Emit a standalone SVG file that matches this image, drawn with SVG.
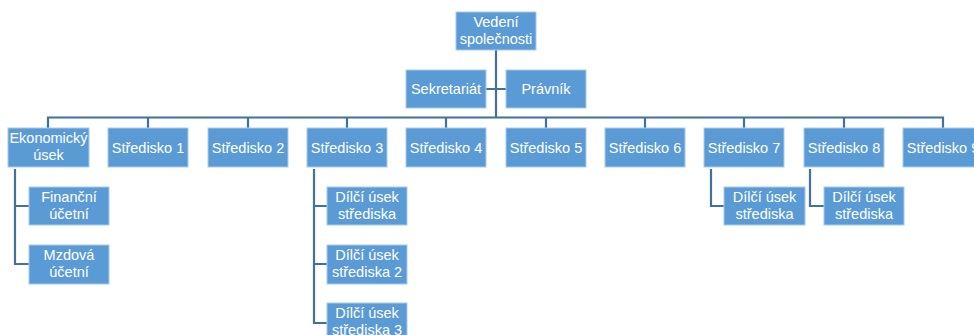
<svg xmlns="http://www.w3.org/2000/svg" width="974" height="335" viewBox="0 0 974 335">
<style>
.b{fill:#5B9BD5;stroke:#A8CBEB;stroke-width:1}
.t{fill:#fff;font-family:"Liberation Sans",Arial,sans-serif;font-size:14.5px;text-anchor:middle}
.c{fill:none;stroke:#41719C;stroke-width:2.2}
</style>
<rect width="974" height="335" fill="#fff"/>
<g id="connectors">
<path class="c" d="M496,50V117.5M486,89H506"/>
<path class="c" d="M48,128V117.5H943V128M148,117.5V128M248,117.5V128M347,117.5V128M446,117.5V128M546,117.5V128M645,117.5V128M744,117.5V128M844,117.5V128"/>
<path class="c" d="M15,169V264H29M15,206H29"/>
<path class="c" d="M314,169V323H327M314,206H327M314,264H327"/>
<path class="c" d="M711,169V206H724"/>
<path class="c" d="M810,169V206H824"/>
</g>
<g id="vedeni"><rect class="b" x="456" y="12" width="80" height="38"/><text class="t" x="496" y="27">Vedení</text><text class="t" x="496" y="44">společnosti</text></g>
<g id="sekretariat"><rect class="b" x="406" y="70" width="80" height="38"/><text class="t" x="446" y="94">Sekretariát</text></g>
<g id="pravnik"><rect class="b" x="506" y="70" width="80" height="38"/><text class="t" x="546" y="94">Právník</text></g>
<g id="ekonomicky"><rect class="b" x="8" y="128" width="81" height="39"/><text class="t" x="48.5" y="143">Ekonomický</text><text class="t" x="48.5" y="160">úsek</text></g>
<g id="s1"><rect class="b" x="108" y="128" width="80" height="39"/><text class="t" x="148" y="152.5">Středisko 1</text></g>
<g id="s2"><rect class="b" x="208" y="128" width="80" height="39"/><text class="t" x="248" y="152.5">Středisko 2</text></g>
<g id="s3"><rect class="b" x="307" y="128" width="80" height="39"/><text class="t" x="347" y="152.5">Středisko 3</text></g>
<g id="s4"><rect class="b" x="406" y="128" width="80" height="39"/><text class="t" x="446" y="152.5">Středisko 4</text></g>
<g id="s5"><rect class="b" x="506" y="128" width="80" height="39"/><text class="t" x="546" y="152.5">Středisko 5</text></g>
<g id="s6"><rect class="b" x="605" y="128" width="80" height="39"/><text class="t" x="645" y="152.5">Středisko 6</text></g>
<g id="s7"><rect class="b" x="704" y="128" width="80" height="39"/><text class="t" x="744" y="152.5">Středisko 7</text></g>
<g id="s8"><rect class="b" x="804" y="128" width="80" height="39"/><text class="t" x="844" y="152.5">Středisko 8</text></g>
<g id="s9"><rect class="b" x="903" y="128" width="80" height="39"/><text class="t" x="943" y="152.5">Středisko 9</text></g>
<g id="financni"><rect class="b" x="29" y="187" width="80" height="38"/><text class="t" x="69" y="202">Finanční</text><text class="t" x="69" y="219">účetní</text></g>
<g id="mzdova"><rect class="b" x="29" y="245" width="80" height="39"/><text class="t" x="69" y="260">Mzdová</text><text class="t" x="69" y="277">účetní</text></g>
<g id="s3a"><rect class="b" x="327" y="187" width="80" height="38"/><text class="t" x="367" y="202">Dílčí úsek</text><text class="t" x="367" y="219">střediska</text></g>
<g id="s3b"><rect class="b" x="327" y="245" width="80" height="39"/><text class="t" x="367" y="260">Dílčí úsek</text><text class="t" x="367" y="277">střediska 2</text></g>
<g id="s3c"><rect class="b" x="327" y="303" width="80" height="39"/><text class="t" x="367" y="318">Dílčí úsek</text><text class="t" x="367" y="335">střediska 3</text></g>
<g id="s7a"><rect class="b" x="724" y="187" width="81" height="38"/><text class="t" x="764.5" y="202">Dílčí úsek</text><text class="t" x="764.5" y="219">střediska</text></g>
<g id="s8a"><rect class="b" x="824" y="187" width="80" height="38"/><text class="t" x="864" y="202">Dílčí úsek</text><text class="t" x="864" y="219">střediska</text></g>
</svg>
